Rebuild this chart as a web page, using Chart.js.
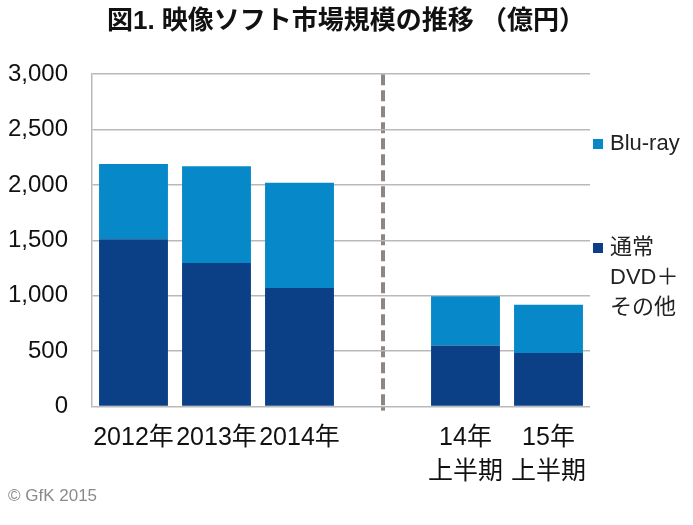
<!DOCTYPE html>
<html lang="ja">
<head>
  <meta charset="UTF-8">
  <title>映像ソフト市場規模の推移</title>
  <style>
    body { margin: 0; background: #fff; }
    #wrap { width: 693px; height: 525px; }
  </style>
</head>
<body>
  <div id="wrap"><canvas id="softChart" width="693" height="525"></canvas></div>

  <script src="https://cdn.jsdelivr.net/npm/chart.js"></script>
  <script>
    // categories (index 3 is the empty slot where the dashed divider sits)
    const categories = ['2012年', '2013年', '2014年', '', ['14年', '上半期'], ['15年', '上半期']];
    // 億円
    const dvdOther = [1510, 1295, 1070, null, 552, 483];
    const bluRay = [680, 875, 950, null, 443, 437];
    const yTicks = [0, 500, 1000, 1500, 2000, 2500, 3000];

    const FONT = '"Liberation Sans", Arial, "Noto Sans CJK JP", sans-serif';
    const DIVIDER_INDEX = 3;

    // legend drawn on the right, Blu-ray first like the original
    const sideLegend = {
      id: 'sideLegend',
      afterDraw(chart) {
        const ctx = chart.ctx;
        const left = chart.chartArea.right + 3;
        const items = [
          { color: chart.data.datasets[1].backgroundColor, lines: ['Blu-ray'], y: 144 },
          { color: chart.data.datasets[0].backgroundColor, lines: ['通常', 'DVD＋', 'その他'], y: 248 }
        ];
        ctx.save();
        ctx.font = '22px ' + FONT;
        ctx.textBaseline = 'middle';
        items.forEach(it => {
          ctx.fillStyle = it.color;
          ctx.fillRect(left, it.y - 5, 10, 10);
          ctx.fillStyle = '#222';
          it.lines.forEach((t, i) => ctx.fillText(t, left + 17, it.y + i * 30));
        });
        ctx.restore();
      }
    };

    new Chart(document.getElementById('softChart'), {
      type: 'bar',
      data: {
        labels: categories,
        datasets: [{
          label: '通常DVD＋その他',
          data: dvdOther,
          backgroundColor: '#0b3f86',
          barPercentage: 0.83,
          categoryPercentage: 1.0
        }, {
          label: 'Blu-ray',
          data: bluRay,
          backgroundColor: '#0788c8',
          barPercentage: 0.83,
          categoryPercentage: 1.0
        }]
      },
      options: {
        responsive: false,
        animation: false,
        layout: { padding: { left: 8, right: 9, top: 0, bottom: 4 } },
        plugins: {
          legend: { display: false },
          tooltip: { enabled: false },
          title: {
            display: true,
            text: '図1. 映像ソフト市場規模の推移 （億円）',
            color: '#111',
            font: { family: FONT, size: 26, weight: 'bold' },
            padding: { top: 6, bottom: 37 }
          },
          subtitle: {
            display: true,
            position: 'bottom',
            align: 'start',
            text: '© GfK 2015',
            color: '#8a8a8a',
            font: { family: FONT, size: 17 },
            padding: { top: 0, bottom: 14 }
          }
        },
        scales: {
          x: {
            stacked: true,
            grid: {
              offset: false,
              color: c => c.index === DIVIDER_INDEX ? '#8d8682' : 'transparent',
              lineWidth: 4,
              tickLength: 4
            },
            border: { display: false, dash: [11, 5] },
            ticks: {
              color: '#111',
              font: { family: FONT, size: 25, lineHeight: 1.36 },
              padding: 11,
              maxRotation: 0,
              autoSkip: false
            },
            afterFit: axis => { axis.height = 80; }
          },
          y: {
            stacked: true,
            min: 0,
            max: 3000,
            afterBuildTicks: axis => { axis.ticks = yTicks.map(v => ({ value: v })); },
            grid: { color: '#b9b9b9', lineWidth: 1.5, drawTicks: false },
            border: { display: true, color: '#b9b9b9', width: 1.5 },
            ticks: {
              color: '#111',
              font: { family: FONT, size: 24 },
              padding: 24
            },
            afterFit: axis => { axis.width = 84; }
          },
          // empty right axis, only reserves room for the side legend
          yRight: {
            type: 'linear',
            position: 'right',
            grid: { display: false },
            border: { display: false },
            ticks: { display: false },
            afterFit: axis => { axis.width = 94; }
          }
        }
      },
      plugins: [sideLegend]
    });
  </script>
</body>
</html>
